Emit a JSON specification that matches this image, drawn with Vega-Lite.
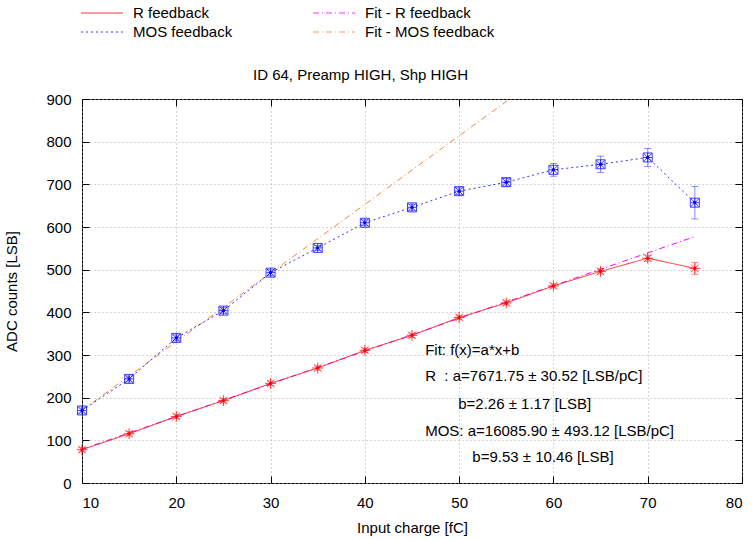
{
  "$schema": "https://vega.github.io/schema/vega-lite/v6.json",
  "width": 660,
  "height": 384,
  "autosize": {"type": "none"},
  "padding": {"left": 82, "top": 99, "right": 13, "bottom": 57},
  "background": "white",
  "config": {
    "font": "Liberation Sans",
    "view": {"stroke": "#000", "strokeWidth": 1},
    "axis": {
      "domain": false,
      "labelFontSize": 15,
      "titleFontSize": 15,
      "titleFontWeight": "normal",
      "labelColor": "#000",
      "titleColor": "#000",
      "tickColor": "#000",
      "tickSize": -7,
      "gridColor": "#aaaaaa",
      "gridDash": [1, 3],
      "labelFont": "Liberation Sans",
      "titleFont": "Liberation Sans"
    }
  },
  "title": {
    "text": "ID 64, Preamp HIGH, Shp HIGH",
    "anchor": "start",
    "frame": "group",
    "dx": 171,
    "dy": 97,
    "offset": 16,
    "fontSize": 15,
    "fontWeight": "normal",
    "font": "Liberation Sans",
    "color": "#000"
  },
  "datasets": {
    "meas": [
      {"series": "R feedback", "x": 10, "y": 78, "err": 5},
      {"series": "R feedback", "x": 15, "y": 115.5, "err": 5},
      {"series": "R feedback", "x": 20, "y": 156, "err": 5},
      {"series": "R feedback", "x": 25, "y": 193, "err": 5},
      {"series": "R feedback", "x": 30, "y": 233.5, "err": 5},
      {"series": "R feedback", "x": 35, "y": 269.5, "err": 5},
      {"series": "R feedback", "x": 40, "y": 311, "err": 5},
      {"series": "R feedback", "x": 45, "y": 346, "err": 5},
      {"series": "R feedback", "x": 50, "y": 388, "err": 5},
      {"series": "R feedback", "x": 55, "y": 422, "err": 5},
      {"series": "R feedback", "x": 60, "y": 462, "err": 5},
      {"series": "R feedback", "x": 65, "y": 496, "err": 6},
      {"series": "R feedback", "x": 70, "y": 527, "err": 7},
      {"series": "R feedback", "x": 75, "y": 503, "err": 14},
      {"series": "MOS feedback", "x": 10, "y": 170, "err": 6},
      {"series": "MOS feedback", "x": 15, "y": 244, "err": 7},
      {"series": "MOS feedback", "x": 20, "y": 340, "err": 7},
      {"series": "MOS feedback", "x": 25, "y": 404, "err": 7},
      {"series": "MOS feedback", "x": 30, "y": 493, "err": 7},
      {"series": "MOS feedback", "x": 35, "y": 551, "err": 6},
      {"series": "MOS feedback", "x": 40, "y": 610, "err": 7},
      {"series": "MOS feedback", "x": 45, "y": 646, "err": 7},
      {"series": "MOS feedback", "x": 50, "y": 684, "err": 8},
      {"series": "MOS feedback", "x": 55, "y": 705, "err": 9},
      {"series": "MOS feedback", "x": 60, "y": 734, "err": 15},
      {"series": "MOS feedback", "x": 65, "y": 747, "err": 19},
      {"series": "MOS feedback", "x": 70, "y": 763, "err": 21},
      {"series": "MOS feedback", "x": 75, "y": 657, "err": 38}
    ],
    "fit": [
      {"series": "Fit - R feedback", "x": 10, "y": 78.98},
      {"series": "Fit - R feedback", "x": 75, "y": 577.64},
      {"series": "Fit - MOS feedback", "x": 10, "y": 170.39},
      {"series": "Fit - MOS feedback", "x": 55.36, "y": 900}
    ],
    "notes": [
      {"x": 46.4, "y": 312, "label": "Fit: f(x)=a*x+b"},
      {"x": 46.4, "y": 250, "label": "R\u00a0\u00a0: a=7671.75 ± 30.52 [LSB/pC]"},
      {"x": 49.9, "y": 186, "label": "b=2.26 ± 1.17 [LSB]"},
      {"x": 46.4, "y": 123, "label": "MOS: a=16085.90 ± 493.12 [LSB/pC]"},
      {"x": 51.4, "y": 60, "label": "b=9.53 ± 10.46 [LSB]"}
    ]
  },
  "layer": [
    {
      "data": {"name": "fit"},
      "mark": {"type": "line", "strokeWidth": 1, "clip": true},
      "encoding": {
        "x": {
          "field": "x", "type": "quantitative",
          "scale": {"domain": [10, 80], "nice": false, "zero": false},
          "axis": {"orient": "bottom", "values": [10, 20, 30, 40, 50, 60, 70, 80], "grid": true, "title": "Input charge [fC]", "labelPadding": 19, "titlePadding": 10}
        },
        "y": {
          "field": "y", "type": "quantitative",
          "scale": {"domain": [0, 900], "nice": false, "zero": false},
          "axis": {"orient": "left", "values": [0, 100, 200, 300, 400, 500, 600, 700, 800, 900], "grid": true, "title": "ADC counts [LSB]", "labelPadding": 18, "titlePadding": 26}
        },
        "color": {
          "field": "series", "type": "nominal",
          "scale": {"domain": ["R feedback", "MOS feedback", "Fit - R feedback", "Fit - MOS feedback"], "range": ["#ff0000", "#0000ff", "#ff00ff", "#ff7f40"]},
          "legend": {"orient": "none", "legendX": 9, "legendY": -97, "columns": 2, "symbolType": "M-2,0L2,0", "symbolSize": 441, "symbolStrokeWidth": 1, "symbolFillColor": "transparent", "labelFontSize": 15, "labelOffset": 20, "columnPadding": 78, "rowPadding": -9, "title": null, "labelColor": "#000", "labelFont": "Liberation Sans"}
        },
        "strokeDash": {
          "field": "series", "type": "nominal",
          "scale": {"domain": ["R feedback", "MOS feedback", "Fit - R feedback", "Fit - MOS feedback"], "range": [[1, 0], [2, 3], [6, 3, 1, 3], [6, 3, 1, 3]]},
          "legend": {"orient": "none", "legendX": 9, "legendY": -97, "columns": 2, "symbolType": "M-2,0L2,0", "symbolSize": 441, "symbolStrokeWidth": 1, "symbolFillColor": "transparent", "labelFontSize": 15, "labelOffset": 20, "columnPadding": 78, "rowPadding": -9, "title": null, "labelColor": "#000", "labelFont": "Liberation Sans"}
        }
      }
    },
    {
      "data": {"name": "meas"},
      "mark": {"type": "line", "strokeWidth": 1, "opacity": 0.8},
      "encoding": {
        "x": {"field": "x", "type": "quantitative", "axis": {"orient": "top", "values": [10, 20, 30, 40, 50, 60, 70, 80], "labels": false, "grid": false, "title": null}},
        "y": {"field": "y", "type": "quantitative", "axis": {"orient": "right", "values": [0, 100, 200, 300, 400, 500, 600, 700, 800, 900], "labels": false, "grid": false, "title": null}},
        "color": {"field": "series", "type": "nominal"},
        "strokeDash": {"field": "series", "type": "nominal"}
      }
    },
    {
      "data": {"name": "meas"},
      "mark": {"type": "errorbar", "ticks": {"size": 7}, "opacity": 0.45},
      "encoding": {
        "x": {"field": "x", "type": "quantitative", "axis": null},
        "y": {"field": "y", "type": "quantitative", "axis": null},
        "yError": {"field": "err"},
        "color": {"field": "series", "type": "nominal", "legend": null}
      }
    },
    {
      "data": {"name": "meas"},
      "mark": {"type": "point", "filled": false, "strokeWidth": 1, "size": 81, "opacity": 0.75},
      "encoding": {
        "x": {"field": "x", "type": "quantitative", "axis": null},
        "y": {"field": "y", "type": "quantitative", "axis": null},
        "shape": {
          "field": "series", "type": "nominal",
          "scale": {"domain": ["R feedback", "MOS feedback"], "range": ["M-1.2,0L1.2,0M0,-1.2L0,1.2M-0.85,-0.85L0.85,0.85M-0.85,0.85L0.85,-0.85", "M-1,-1L1,-1L1,1L-1,1ZM-1,0L1,0M0,-1L0,1M-1,-1L1,1M-1,1L1,-1"]},
          "legend": null
        },
        "color": {"field": "series", "type": "nominal", "legend": null}
      }
    },
    {
      "data": {"name": "meas"},
      "mark": {"type": "circle", "size": 10, "opacity": 1},
      "encoding": {
        "x": {"field": "x", "type": "quantitative", "axis": null},
        "y": {"field": "y", "type": "quantitative", "axis": null},
        "color": {"field": "series", "type": "nominal", "legend": null}
      }
    },
    {
      "data": {"name": "notes"},
      "mark": {"type": "text", "align": "left", "baseline": "middle", "fontSize": 15, "font": "Liberation Sans", "color": "#000"},
      "encoding": {
        "x": {"field": "x", "type": "quantitative", "axis": null},
        "y": {"field": "y", "type": "quantitative", "axis": null},
        "text": {"field": "label", "type": "nominal"}
      }
    }
  ],
  "resolve": {"axis": {"x": "independent", "y": "independent"}}
}
